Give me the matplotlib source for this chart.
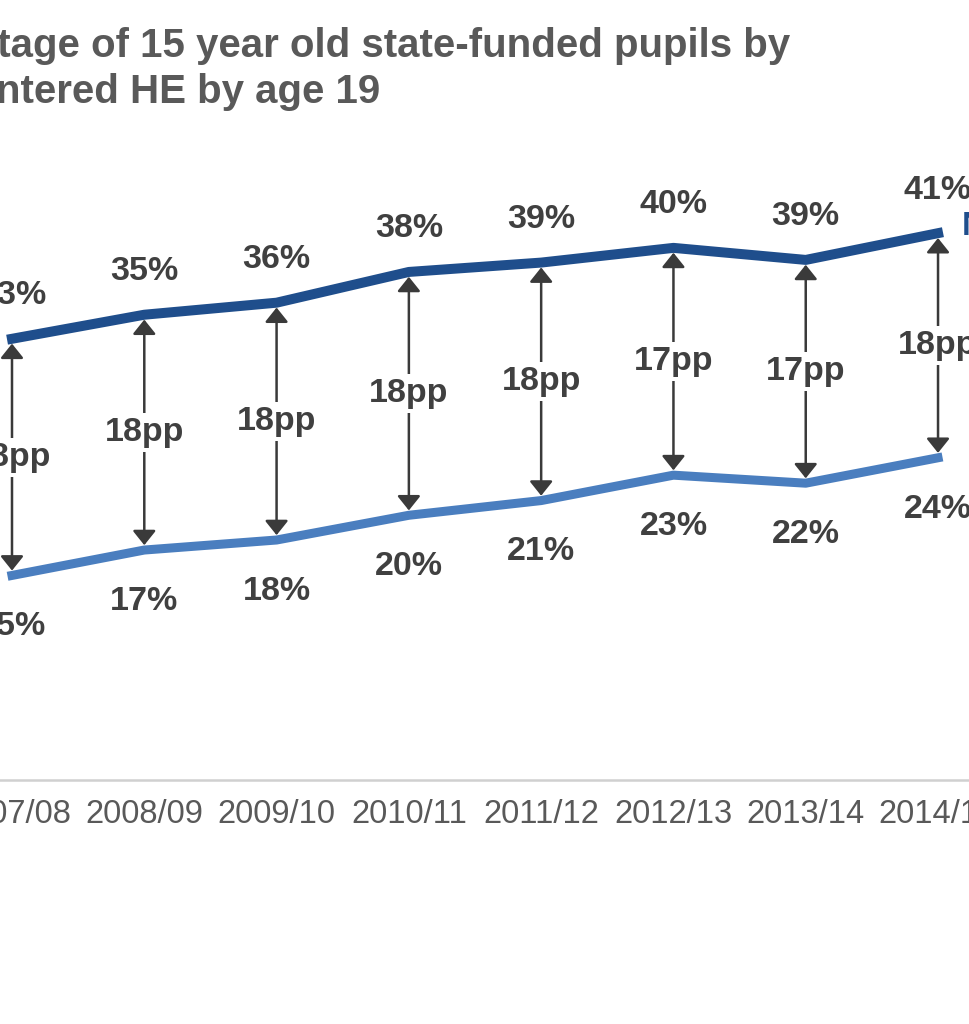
import matplotlib
matplotlib.use("Agg")
import matplotlib.pyplot as plt

plt.rcParams['font.family'] = ['Liberation Sans', 'DejaVu Sans']

years = ["2007/08", "2008/09", "2009/10", "2010/11", "2011/12", "2012/13", "2013/14", "2014/15"]
non_fsm = [33.0, 34.8, 35.7, 38.0, 38.7, 39.8, 38.9, 40.9]
fsm = [15.3, 17.2, 17.95, 19.8, 20.9, 22.8, 22.2, 24.1]
non_fsm_labels = ["33%", "35%", "36%", "38%", "39%", "40%", "39%", "41%"]
fsm_labels = ["15%", "17%", "18%", "20%", "21%", "23%", "22%", "24%"]
gap_labels = ["18pp", "18pp", "18pp", "18pp", "18pp", "17pp", "17pp", "18pp"]
title_line1 = "Percentage of 15 year old state-funded pupils by"
title_line2 = "who entered HE by age 19"
series_name = "Non-FSM"

W, H = 970, 1024
fig = plt.figure(figsize=(W / 100, H / 100), dpi=100)
ax = fig.add_axes([0, 244 / H, 1, 1 - 244 / H])

x = list(range(len(years)))
dark = "#1f4e8c"
light = "#4a7ebf"
txt = "#404040"

ax.plot(x, non_fsm, color=dark, lw=7.2, solid_joinstyle='round', zorder=3)
ax.plot(x, fsm, color=light, lw=6.5, solid_joinstyle='round', zorder=3)

for i in x:
    ax.annotate("", xy=(i, fsm[i]), xytext=(i, non_fsm[i]),
                arrowprops=dict(arrowstyle='<|-|>,head_length=0.4,head_width=0.32',
                                color="#3a3a3a", lw=1.8,
                                mutation_scale=22, shrinkA=3.5, shrinkB=3.5),
                zorder=2)
    mid = (non_fsm[i] + fsm[i]) / 2
    ax.text(i, mid, gap_labels[i], ha='center', va='center', fontsize=24.5,
            fontweight='bold', color=txt, zorder=4,
            bbox=dict(facecolor='white', edgecolor='none', pad=3))
    ax.annotate(non_fsm_labels[i], xy=(i, non_fsm[i]), xytext=(0, 31),
                textcoords='offset points', ha='center', va='center',
                fontsize=24.5, fontweight='bold', color=txt, zorder=4)
    ax.annotate(fsm_labels[i], xy=(i, fsm[i]), xytext=(0, -37),
                textcoords='offset points', ha='center', va='center',
                fontsize=24.5, fontweight='bold', color=txt, zorder=4)

ax.annotate(series_name, xy=(x[-1], non_fsm[-1]), xytext=(17, 5),
            textcoords='offset points', ha='left', va='center',
            fontsize=24, fontweight='bold', color=dark)

spacing = 132.29
ax.set_xlim(-12 / spacing, (W - 12) / spacing)
ax.set_ylim(0, 780 / 13.37)
ax.set_xticks(x)
ax.set_xticklabels(years, fontsize=23.5, color="#595959")
ax.tick_params(axis='x', length=0, pad=14)
ax.set_yticks([])
for s in ['top', 'right', 'left']:
    ax.spines[s].set_visible(False)
ax.spines['bottom'].set_color("#d0d0d0")
ax.spines['bottom'].set_linewidth(1.8)

fig.text(790 / W, 1 - 57 / H, title_line1, ha='right', va='baseline',
         fontsize=29, fontweight='bold', color="#595959")
fig.text(380 / W, 1 - 103 / H, title_line2, ha='right', va='baseline',
         fontsize=29, fontweight='bold', color="#595959")

fig.savefig("out.png", dpi=100, facecolor='white')
